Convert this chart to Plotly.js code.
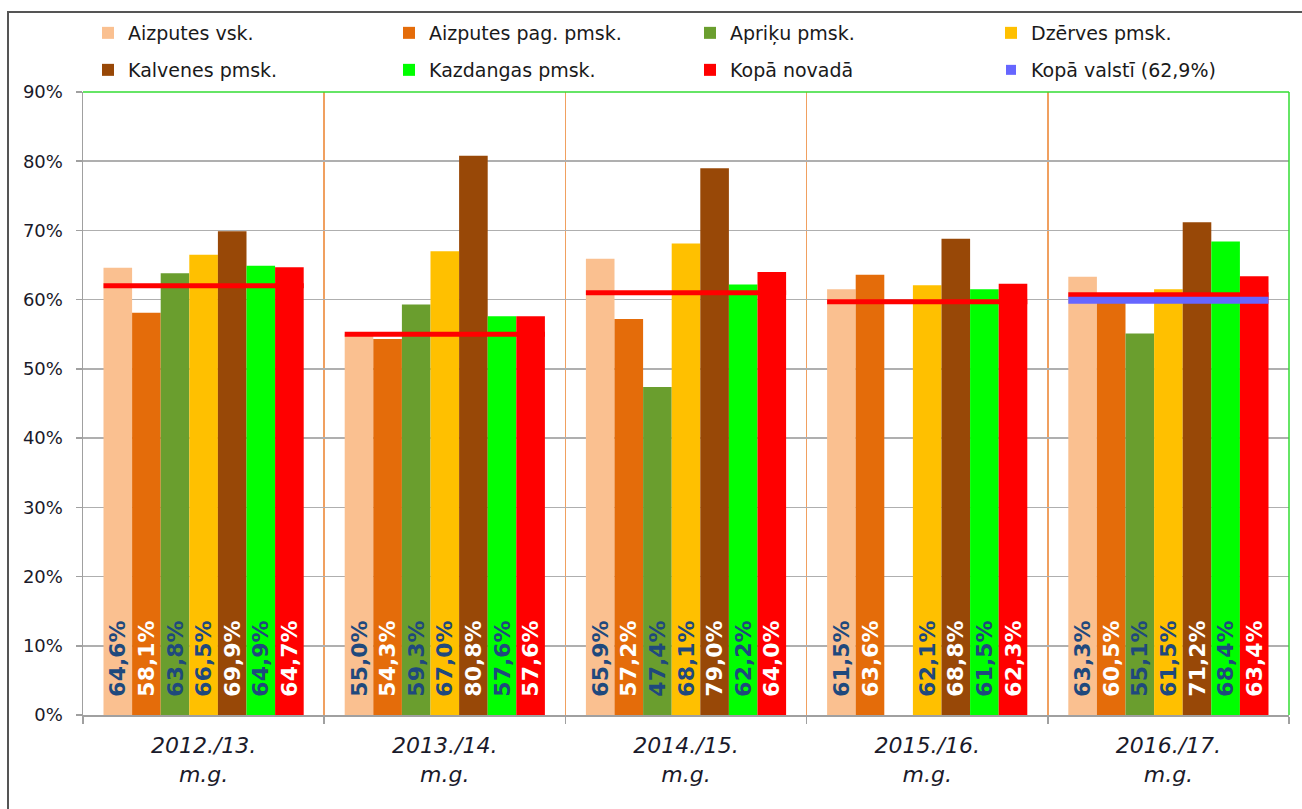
<!DOCTYPE html>
<html><head><meta charset="utf-8">
<script src="https://cdn.plot.ly/plotly-3.0.1.min.js"></script>
<style>
html,body{margin:0;padding:0;background:#fff;overflow:hidden;}
#chart{width:1302px;height:809px;}
#frame{position:absolute;left:7px;top:11px;width:1400px;height:900px;border:2px solid #555;pointer-events:none;}
</style></head><body>
<div id="chart"></div><div id="frame"></div>
<script>
// ---- data ----
const categories = ['2012./13.<br>m.g.', '2013./14.<br>m.g.', '2014./15.<br>m.g.', '2015./16.<br>m.g.', '2016./17.<br>m.g.'];
const seriesNames = ['Aizputes vsk.', 'Aizputes pag. pmsk.', 'Apriķu pmsk.', 'Dzērves pmsk.', 'Kalvenes pmsk.', 'Kazdangas pmsk.', 'Kopā novadā'];
const aizputesVsk   = [64.6, 55.0, 65.9, 61.5, 63.3];
const aizputesPag   = [58.1, 54.3, 57.2, 63.6, 60.5];
const apriku        = [63.8, 59.3, 47.4, null, 55.1];
const dzerves       = [66.5, 67.0, 68.1, 62.1, 61.5];
const kalvenes      = [69.9, 80.8, 79.0, 68.8, 71.2];
const kazdangas     = [64.9, 57.6, 62.2, 61.5, 68.4];
const kopaNovada    = [64.7, 57.6, 64.0, 62.3, 63.4];
const novadaLinija  = [62.0, 55.0, 61.0, 59.7, 60.7];
const valstsLinija  = [null, null, null, null, 59.9];
const valstsName = 'Kopā valstī (62,9%)';
const yTicks = [0, 10, 20, 30, 40, 50, 60, 70, 80, 90];

// ---- styles ----
const colors = ['#FAC090', '#E46C0A', '#6A9E2E', '#FFC000', '#984807', '#00FF00', '#FF0000'];
const labelColors = ['#1F497D', '#FFFFFF', '#1F497D', '#1F497D', '#FFFFFF', '#1F497D', '#FFFFFF'];
const FONT = 'DejaVu Sans, Verdana, sans-serif';
const bargap = 0.17;
const half = (1 - bargap) / 2;

const allSeries = [aizputesVsk, aizputesPag, apriku, dzerves, kalvenes, kazdangas, kopaNovada];
const xIdx = categories.map((c, i) => i);
const fmt = v => v == null ? '' : '\u00a0\u00a0' + v.toFixed(1).replace('.', ',') + '%';

const traces = allSeries.map((vals, k) => ({
  type: 'bar', x: xIdx, y: vals, name: seriesNames[k],
  marker: {color: colors[k], line: {width: 0}},
  text: vals.map(fmt), textposition: 'inside', insidetextanchor: 'start',
  textangle: -90, constraintext: 'none', cliponaxis: false,
  textfont: {family: FONT, size: 22, color: labelColors[k], weight: 'bold'},
  hoverinfo: 'skip',
  legend: k < 4 ? 'legend' : 'legend2'
}));

function segs(vals) {
  const xs = [], ys = [];
  vals.forEach((v, i) => { if (v != null) { xs.push(i - half, i + half, null); ys.push(v, v, null); } });
  return {xs, ys};
}
const nl = segs(novadaLinija);
traces.push({type: 'scatter', mode: 'lines', x: nl.xs, y: nl.ys, line: {color: '#FF0000', width: 5}, showlegend: false, hoverinfo: 'skip'});
const vl = segs(valstsLinija);
traces.push({type: 'scatter', mode: 'lines', x: vl.xs, y: vl.ys, line: {color: '#6666FF', width: 7}, name: valstsName,
  showlegend: false, hoverinfo: 'skip'});
// legend entry for the national line (square swatch)
traces.push({type: 'scatter', mode: 'markers', x: [null], y: [null], name: valstsName,
  marker: {color: '#6666FF', symbol: 'square', size: 10}, legend: 'legend2', hoverinfo: 'skip'});

const legendCommon = {
  orientation: 'h', xref: 'container', yref: 'container', xanchor: 'left', yanchor: 'middle',
  entrywidth: 256, entrywidthmode: 'pixels', bgcolor: 'rgba(0,0,0,0)', borderwidth: 0,
  font: {family: FONT, size: 19, color: '#1A1A1A'}, traceorder: 'normal'
};

const layout = {
  width: 1302, height: 809,
  margin: {l: 83, r: 13, t: 92, b: 94},
  paper_bgcolor: '#fff', plot_bgcolor: '#fff',
  barmode: 'group', bargap: bargap, bargroupgap: 0,
  font: {family: FONT, color: '#1A1A1A'},
  xaxis: {
    range: [-0.5, 4.5], tickmode: 'array', tickvals: xIdx, ticktext: categories,
    ticks: '', showgrid: false, zeroline: false,
    showline: true, linecolor: '#A0A0A0', linewidth: 2,
    tickfont: {family: FONT, size: 22, color: '#1A1A2A', style: 'italic'},
    ticklabelstandoff: 10,
    minor: {tickmode: 'linear', tick0: 0.5, dtick: 1, showgrid: true, gridcolor: '#F0A060', gridwidth: 1.5,
            ticks: 'outside', ticklen: 7, tickcolor: '#A0A0A0', tickwidth: 1.5}
  },
  yaxis: {
    range: [0, 90], tickmode: 'array', tickvals: yTicks, ticktext: yTicks.map(v => v + '%'),
    showgrid: true, gridcolor: '#AFAFAF', gridwidth: 1.5, zeroline: false,
    showline: true, linecolor: '#A0A0A0', linewidth: 1.5,
    ticks: 'outside', ticklen: 6, tickcolor: '#A0A0A0', tickwidth: 1.5,
    tickfont: {family: FONT, size: 18, color: '#1A1A2A'}, ticklabelstandoff: 9
  },
  legend: Object.assign({}, legendCommon, {x: 88 / 1302, y: 1 - 33 / 809}),
  legend2: Object.assign({}, legendCommon, {x: 88 / 1302, y: 1 - 70 / 809}),
  shapes: [
    {type: 'line', xref: 'paper', yref: 'paper', x0: 0, x1: 1, y0: 1, y1: 1, line: {color: '#33DD33', width: 1.5}, layer: 'above'},
    {type: 'line', xref: 'paper', yref: 'paper', x0: 1, x1: 1, y0: 0, y1: 1, line: {color: '#33DD33', width: 1.5}, layer: 'above'}
  ],
  showlegend: true
};

Plotly.newPlot('chart', traces, layout, {displayModeBar: false, staticPlot: true});
</script>
</body></html>
